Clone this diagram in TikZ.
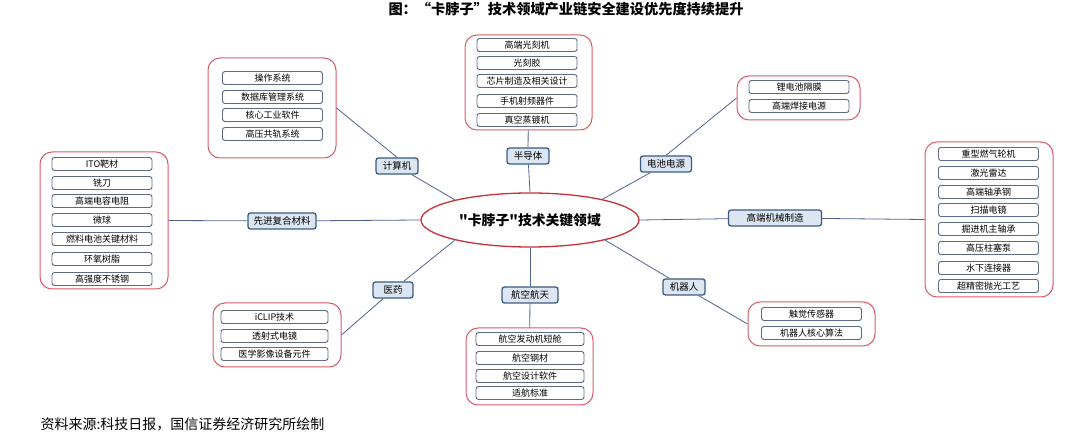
\documentclass[tikz,border=0pt]{standalone}
\usepackage{fontspec}
\setmainfont{Noto Sans CJK SC}
\newfontfamily\ellfont[Ligatures=TeXOff]{Noto Sans CJK SC}
\usetikzlibrary{shapes.geometric}
\begin{document}
\begin{tikzpicture}[x=1pt,y=-1pt,
  grp/.style={draw=grpred, line width=1pt, rounded corners=12pt, fill=white, inner sep=0pt},
  item/.style={draw=itemgray, line width=0.9pt, rounded corners=2.5pt, fill=white, minimum width=100pt, minimum height=13pt, inner sep=0pt, font=\fontsize{9}{10}\selectfont},
  cat/.style={draw=catblue, line width=1.3pt, rounded corners=2.5pt, fill=catfill, minimum height=16pt, inner sep=0pt, font=\fontsize{9.5}{10}\selectfont},
  link/.style={draw=linkblue, line width=0.8pt}
]
\definecolor{grpred}{HTML}{DA5A66}
\definecolor{itemgray}{HTML}{5C6B80}
\definecolor{catblue}{HTML}{3B5A82}
\definecolor{catfill}{HTML}{DCE6F2}
\definecolor{linkblue}{HTML}{4F6390}
\definecolor{ellred}{HTML}{C8303A}
\useasboundingbox (0,0) rectangle (1080,438);

\node[font=\fontsize{14.2}{16}\selectfont\bfseries] (title) at (566,9) {图：“卡脖子”技术领域产业链安全建设优先度持续提升};

% center
\node[draw=ellred, line width=1.3pt, ellipse, fill=white, minimum width=218pt, minimum height=54pt, inner sep=0pt, font=\ellfont\fontsize{13.8}{16}\selectfont\bfseries] (c) at (530,220) {"卡脖子"技术关键领域};

% categories
\node[cat, minimum width=42pt] (kJ) at (397,166) {计算机};
\node[cat, minimum width=42pt] (kB) at (528,156) {半导体};
\node[cat, minimum width=51pt] (kD) at (666,164) {电池电源};
\node[cat, minimum width=68pt] (kX) at (282,221) {先进复合材料};
\node[cat, minimum width=93pt] (kG) at (775,218) {高端机械制造};
\node[cat, minimum width=40pt] (kY) at (393,290) {医药};
\node[cat, minimum width=56pt] (kH) at (530,295) {航空航天};
\node[cat, minimum width=42pt] (kR) at (684,287) {机器人};

% groups
\node[grp, minimum width=128pt, minimum height=100pt] (gJ) at (272,108) {};
\node[grp, minimum width=127pt, minimum height=95pt] (gB) at (528.5,82.5) {};
\node[grp, minimum width=123pt, minimum height=44pt] (gD) at (798.5,98) {};
\node[grp, minimum width=128pt, minimum height=137pt] (gX) at (104,220.5) {};
\node[grp, minimum width=128pt, minimum height=155pt] (gG) at (989,219.5) {};
\node[grp, minimum width=128pt, minimum height=64pt] (gY) at (277,335) {};
\node[grp, minimum width=127pt, minimum height=77pt] (gH) at (529.5,366.5) {};
\node[grp, minimum width=127pt, minimum height=44pt] (gR) at (811.5,324) {};

% items
\node[item] (j1) at (272.5,78) {操作系统};
\node[item] (j2) at (272.5,97) {数据库管理系统};
\node[item] (j3) at (272.5,115) {核心工业软件};
\node[item] (j4) at (272.5,134) {高压共轨系统};

\node[item] (b1) at (527,45) {高端光刻机};
\node[item] (b2) at (527,63) {光刻胶};
\node[item] (b3) at (527,81) {芯片制造及相关设计};
\node[item] (b4) at (527,101) {手机射频器件};
\node[item] (b5) at (527,120) {真空蒸镀机};

\node[item] (d1) at (799,87) {锂电池隔膜};
\node[item] (d2) at (799,106) {高端焊接电源};

\node[item] (x1) at (102,164) {ITO靶材};
\node[item] (x2) at (102,183) {铣刀};
\node[item] (x3) at (102,201) {高端电容电阻};
\node[item] (x4) at (102,220) {微球};
\node[item] (x5) at (102,239) {燃料电池关键材料};
\node[item] (x6) at (102,259) {环氧树脂};
\node[item] (x7) at (102,279) {高强度不锈钢};

\node[item] (m1) at (988.5,154) {重型燃气轮机};
\node[item] (m2) at (988.5,173) {激光雷达};
\node[item] (m3) at (988.5,192) {高端轴承钢};
\node[item] (m4) at (988.5,210) {扫描电镜};
\node[item] (m5) at (988.5,229) {掘进机主轴承};
\node[item] (m6) at (988.5,248) {高压柱塞泵};
\node[item] (m7) at (988.5,268) {水下连接器};
\node[item] (m8) at (988.5,286) {超精密抛光工艺};

\node[item, minimum width=107pt] (y1) at (274.5,317) {iCLIP技术};
\node[item, minimum width=107pt] (y2) at (274.5,336) {透射式电镜};
\node[item, minimum width=107pt] (y3) at (274.5,354) {医学影像设备元件};

\node[item, minimum width=108pt] (h1) at (530,339) {航空发动机短舱};
\node[item, minimum width=108pt] (h2) at (530,358) {航空钢材};
\node[item, minimum width=108pt] (h3) at (530,376) {航空设计软件};
\node[item, minimum width=108pt] (h4) at (530,393) {适航标准};

\node[item] (r1) at (811.5,314) {触觉传感器};
\node[item] (r2) at (811.5,333) {机器人核心算法};

% links center -> categories
\draw[link] (c.165) -- (kJ);
\draw[link] (c.north) -- (kB);
\draw[link] (c.16) -- (kD);
\draw[link] (c.west) -- (kX);
\draw[link] (c.east) -- (kG);
\draw[link] (c.195) -- (kY);
\draw[link] (c.south) -- (kH);
\draw[link] (c.345) -- (kR);

% links categories -> groups
\draw[link] (kJ.north) -- (gJ.east);
\draw[link] (kB) -- (gB);
\draw[link] (kD.north) -- (gD.west);
\draw[link] (kX) -- (gX.east);
\draw[link] (kG) -- (gG.west);
\draw[link] (kY) -- (gY.east);
\draw[link] (kH) -- (gH);
\draw[link] (kR) -- (gR.west);

\node[anchor=west, font=\fontsize{14}{16}\selectfont] (src) at (37,424) {资料来源:科技日报，国信证券经济研究所绘制};
\end{tikzpicture}
\end{document}
